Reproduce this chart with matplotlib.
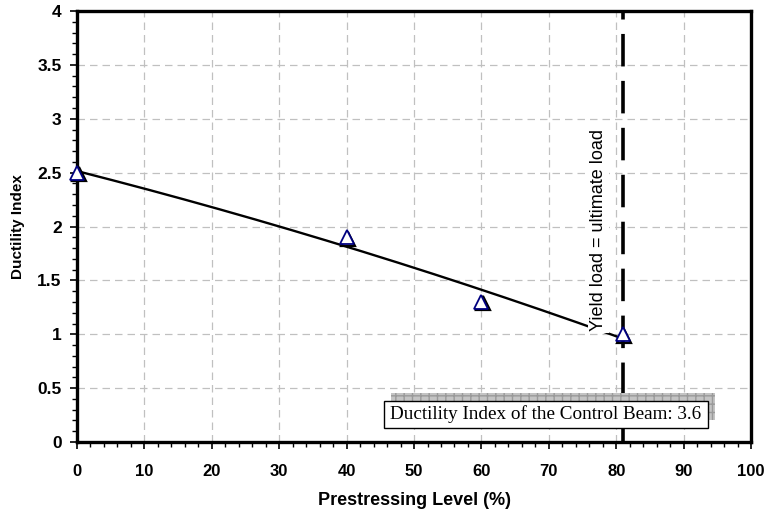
import numpy as np
import matplotlib
matplotlib.use("Agg")
import matplotlib.pyplot as plt
from matplotlib.patches import Rectangle
from matplotlib.ticker import MultipleLocator
import matplotlib.transforms as mtransforms

# Measured ductility index against prestressing level
prestress = [0, 40, 60, 81]
ductility = [2.5, 1.9, 1.3, 1.0]
yield_limit = 81
control_label = "Ductility Index of the Control Beam: 3.6"
x_ticks = [0, 10, 20, 30, 40, 50, 60, 70, 80, 90, 100]
y_ticks = [0, 0.5, 1, 1.5, 2, 2.5, 3, 3.5, 4]

plt.rcParams['font.family'] = ['Liberation Sans', 'DejaVu Sans']

fig = plt.figure(figsize=(7.67, 5.14), dpi=100)
ax = fig.add_axes([0.1004, 0.140, 0.8788, 0.8386])

ax.set_xlim(0, 100)
ax.set_ylim(0, 4)
ax.set_xticks(x_ticks)
ax.set_yticks(y_ticks)
ax.set_xticklabels([str(v) for v in x_ticks], fontsize=12, fontweight='bold')
ax.set_yticklabels([f"{v:g}" for v in y_ticks], fontsize=12.5, fontweight='bold')
ax.xaxis.set_minor_locator(MultipleLocator(2))
ax.yaxis.set_minor_locator(MultipleLocator(0.1))
ax.tick_params(which='major', direction='out', length=5, width=1.2, color='black')
ax.tick_params(which='minor', direction='out', length=3.5, width=1.0, color='black')
ax.tick_params(axis='y', pad=6)
ax.tick_params(axis='x', pad=11)

for s in ax.spines.values():
    s.set_linewidth(2.4)
    s.set_color('black')

ax.grid(True, which='major', color='#c0c0c0', linestyle=(0, (6, 4)), linewidth=0.9)
ax.set_axisbelow(True)

ax.set_xlabel("Prestressing Level (%)", fontsize=13, fontweight='bold', labelpad=9)
ax.set_ylabel("Ductility Index", fontsize=11, fontweight='bold', labelpad=9)

# Quadratic trend line through the measurements
coef = np.polyfit(prestress, ductility, 2)
xs = np.linspace(0, prestress[-1], 200)
ax.plot(xs, np.polyval(coef, xs), color='black', linewidth=1.7, zorder=3)

# Vertical limit where yield load equals ultimate load
ax.axvline(yield_limit, color='black', linewidth=2.6, linestyle=(0, (9, 4)), zorder=4)

# Triangle markers with a dark drop shadow
shadow_tr = mtransforms.offset_copy(ax.transData, fig=fig, x=1.5, y=-1.5, units='dots')
ax.plot(prestress, ductility, linestyle='none', marker='^', markersize=10,
        markerfacecolor='none', markeredgecolor='black', markeredgewidth=1.6,
        transform=shadow_tr, zorder=5, clip_on=False)
ax.plot(prestress, ductility, linestyle='none', marker='^', markersize=10,
        markerfacecolor='white', markeredgecolor='#000080', markeredgewidth=1.3,
        zorder=6, clip_on=False)

ax.text(77.4, 1.97, "Yield load = ultimate load", rotation=90, ha='center', va='center',
        fontsize=13, color='black', zorder=7,
        bbox=dict(facecolor='white', edgecolor='none', pad=1.5))

# Boxed note with a hatched shadow
shadow = Rectangle((46.6, 0.204), 48.1, 0.251, transform=ax.transData,
                   facecolor='#c4c4c4', edgecolor='#9a9a9a', hatch='++', linewidth=0,
                   zorder=6)
ax.add_patch(shadow)
box = Rectangle((45.5, 0.13), 48.1, 0.251, transform=ax.transData,
                facecolor='white', edgecolor='black', linewidth=1.0, zorder=7)
ax.add_patch(box)
ax.text(45.5 + 48.1 / 2, 0.13 + 0.251 / 2, control_label, ha='center', va='center',
        fontsize=13.8, family=['Liberation Serif', 'DejaVu Serif'], color='black',
        zorder=8)

fig.savefig("out.png", dpi=100)
